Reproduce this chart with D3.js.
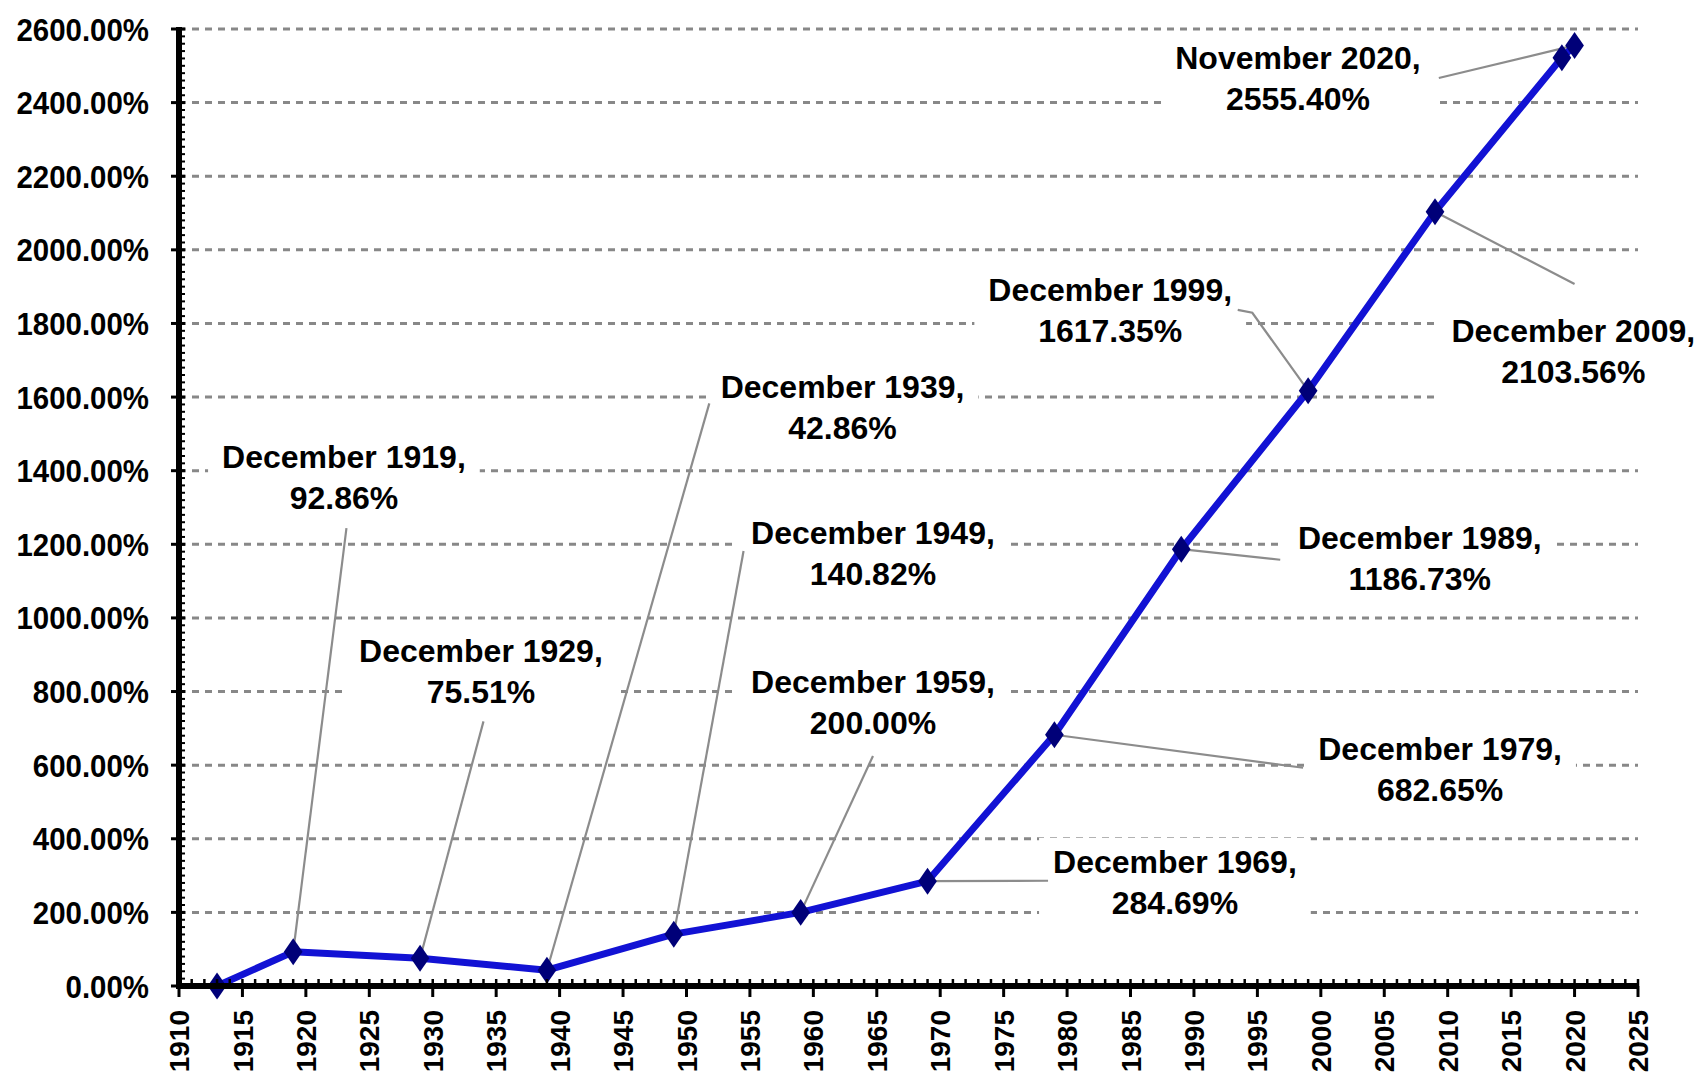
<!DOCTYPE html>
<html><head><meta charset="utf-8">
<script src="https://cdn.jsdelivr.net/npm/d3@7"></script>
<style>
body{margin:0;background:#fff}
svg{display:block}
text{font-family:"Liberation Sans",Arial,Helvetica,sans-serif;font-weight:bold;fill:#000}
</style>
</head><body>
<svg id="chart" width="1701" height="1084"></svg>
<script>
// ---- data ----
const years  = [1913, 1919, 1929, 1939, 1949, 1959, 1969, 1979, 1989, 1999, 2009, 2019, 2020];
const values = [0, 92.86, 75.51, 42.86, 140.82, 200.00, 284.69, 682.65, 1186.73, 1617.35, 2103.56, 2522.18, 2555.40];
const labelPoint = [1, 2, 3, 4, 5, 6, 7, 8, 9, 10, 12];
const labelNames = ["December 1919,", "December 1929,", "December 1939,", "December 1949,", "December 1959,",
  "December 1969,", "December 1979,", "December 1989,", "December 1999,", "December 2009,", "November 2020,"];
const labelValues = ["92.86%", "75.51%", "42.86%", "140.82%", "200.00%", "284.69%", "682.65%", "1186.73%",
  "1617.35%", "2103.56%", "2555.40%"];
const yTicks = d3.range(0, 2601, 200);
const xTicks = d3.range(1910, 2026, 5);

// ---- annotation layout (in data space: [year, value]) ----
const labelAt = [[1923.0,1383],[1933.8,855],[1962.3,1574],[1964.7,1176],[1964.7,772],[1988.5,283],
  [2009.4,590],[2007.8,1162],[1983.4,1837],[2019.9,1725],[1998.2,2467]];
const leaderFrom = [[[1923.2,1244]],[[1934.0,719]],[[1951.8,1583]],[[1954.5,1182]],[[1964.7,625]],
  [[1978.5,286]],[[1998.6,593]],[[1996.8,1158]],[[1993.45,1837],[1994.6,1829]],[[2020.0,1907]],[[2009.3,2467]]];

// ---- drawing ----
const svg = d3.select("#chart");
const x = d3.scaleLinear().domain([1910, 2025]).range([179, 1638]);
const y = d3.scaleLinear().domain([0, 2600]).range([986, 29]);

// gridlines
svg.append("g").selectAll("line").data(yTicks.slice(1)).join("line")
  .attr("x1", x(1910)).attr("x2", x(2025))
  .attr("y1", d => y(d)).attr("y2", d => y(d))
  .attr("stroke", "#888").attr("stroke-width", 3).attr("stroke-dasharray", "7,6");

// labels with white boxes
const gLab = svg.append("g");
labelPoint.forEach((pi, i) => {
  const g = gLab.append("g");
  const cx = x(labelAt[i][0]), cy = y(labelAt[i][1]);
  const rect = g.append("rect").attr("fill", "#fff");
  const t = g.append("text").attr("text-anchor", "middle").style("font-size", "32px");
  t.append("tspan").attr("x", cx).attr("y", cy - 20.5).attr("dy", "0.36em").text(labelNames[i]);
  t.append("tspan").attr("x", cx).attr("y", cy + 20.5).attr("dy", "0.36em").text(labelValues[i]);
  const b = t.node().getBBox();
  rect.attr("x", b.x - 14).attr("y", b.y - 6).attr("width", b.width + 28).attr("height", b.height + 24);
});

// leader lines
const gLead = svg.append("g");
labelPoint.forEach((pi, i) => {
  const pts = leaderFrom[i].map(p => [x(p[0]), y(p[1])]).concat([[x(years[pi]), y(values[pi])]]);
  gLead.append("path").attr("d", d3.line()(pts)).attr("fill", "none")
    .attr("stroke", "#8c8c8c").attr("stroke-width", 2.2);
});

// series line + markers
svg.append("path").datum(years.map((yr, i) => [yr, values[i]]))
  .attr("d", d3.line().x(d => x(d[0])).y(d => y(d[1])))
  .attr("fill", "none").attr("stroke", "#1212d4").attr("stroke-width", 7).attr("stroke-linejoin", "round");
svg.append("g").selectAll("path").data(years.map((yr, i) => [yr, values[i]])).join("path")
  .attr("d", d3.symbol(d3.symbolDiamond, 210))
  .attr("transform", d => `translate(${x(d[0])},${y(d[1])}) scale(1.2,1)`)
  .attr("fill", "#000078");

// y axis
const yAxisG = svg.append("g");
yAxisG.append("line").attr("x1", 179).attr("x2", 179).attr("y1", y(2600) - 2).attr("y2", y(0) + 3)
  .attr("stroke", "#000").attr("stroke-width", 6);
yAxisG.selectAll(".ymin").data(d3.range(0, 2601, 20)).join("line")
  .attr("x1", 179).attr("x2", 185).attr("y1", d => y(d)).attr("y2", d => y(d))
  .attr("stroke", "#000").attr("stroke-width", 2);
yAxisG.selectAll(".ymaj").data(yTicks).join("line")
  .attr("x1", 171).attr("x2", 185).attr("y1", d => y(d)).attr("y2", d => y(d))
  .attr("stroke", "#000").attr("stroke-width", 3);
yAxisG.selectAll("text").data(yTicks).join("text")
  .attr("text-anchor", "end")
  .attr("transform", d => `translate(149,${y(d)}) scale(0.92,1)`)
  .attr("dy", "0.36em").style("font-size", "32px")
  .text(d => d3.format(".2f")(d) + "%");

// x axis
const xAxisG = svg.append("g");
xAxisG.selectAll(".xmin").data(d3.range(1910, 2026, 1)).join("line")
  .attr("x1", d => x(d)).attr("x2", d => x(d)).attr("y1", y(0) - 7).attr("y2", y(0))
  .attr("stroke", "#000").attr("stroke-width", 2.5);
xAxisG.append("line").attr("x1", 176).attr("x2", x(2025)).attr("y1", y(0)).attr("y2", y(0))
  .attr("stroke", "#000").attr("stroke-width", 6);
xAxisG.selectAll(".xmaj").data(xTicks).join("line")
  .attr("x1", d => x(d)).attr("x2", d => x(d)).attr("y1", y(0)).attr("y2", y(0) + 11)
  .attr("stroke", "#000").attr("stroke-width", 3);
xAxisG.selectAll("text").data(xTicks).join("text")
  .attr("text-anchor", "end")
  .attr("transform", d => `translate(${x(d)},1010) rotate(-90)`)
  .attr("dy", "0.36em").style("font-size", "28px")
  .text(d => d);
</script>
</body></html>
